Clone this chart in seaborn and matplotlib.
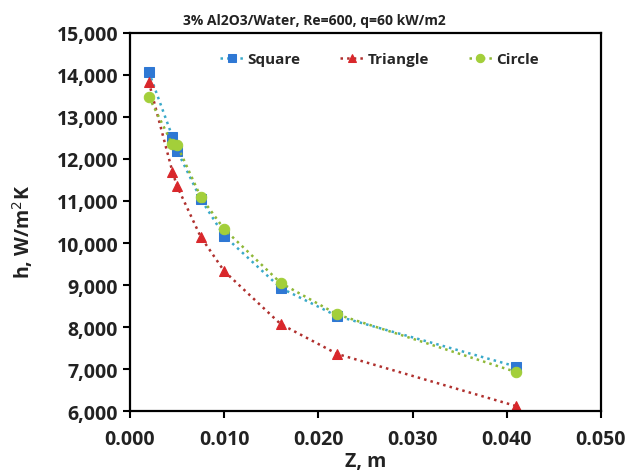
import numpy as np
import pandas as pd
import matplotlib
matplotlib.use("Agg")
import matplotlib.pyplot as plt
import seaborn as sns
from matplotlib.ticker import FuncFormatter

# dane
z = [0.002, 0.0045, 0.005, 0.0075, 0.010, 0.016, 0.022, 0.041]
h_square = [14070, 12530, 12200, 11050, 10170, 8930, 8260, 7060]
h_triangle = [13830, 11700, 11350, 10150, 9330, 8070, 7360, 6120]
h_circle = [13480, 12350, 12330, 11100, 10330, 9050, 8300, 6930]

series = ["Square", "Triangle", "Circle"]
values = [h_square, h_triangle, h_circle]

df = pd.concat([pd.DataFrame({"Z": z, "h": v, "shape": s}) for s, v in zip(series, values)])

sns.set_theme(style="white")
plt.rcParams['font.family'] = ['Open Sans', 'DejaVu Sans']

styles = {
    "Square": dict(marker="s", mc="#2F78D4", lc="#3AA9C9", ms=7),
    "Triangle": dict(marker="^", mc="#D9272B", lc="#B0302E", ms=7),
    "Circle": dict(marker="o", mc="#A3CF3A", lc="#8FB838", ms=7.5),
}

fig = plt.figure(figsize=(6.28, 4.77), dpi=100)
ax = fig.add_axes([0.207, 0.136, 0.75, 0.793])

for s in series:
    st = styles[s]
    sns.lineplot(data=df[df["shape"] == s], x="Z", y="h", ax=ax, label=s,
                 color=st["lc"], linestyle=":", linewidth=1.8,
                 marker=st["marker"], markersize=st["ms"],
                 markerfacecolor=st["mc"], markeredgecolor=st["mc"],
                 estimator=None, sort=False)

ax.set_xlim(0, 0.05)
ax.set_ylim(6000, 15000)
ax.set_xticks(np.arange(0, 0.0501, 0.01))
ax.set_yticks(np.arange(6000, 15001, 1000))
ax.xaxis.set_major_formatter(FuncFormatter(lambda v, p: f"{v:.3f}"))
ax.yaxis.set_major_formatter(FuncFormatter(lambda v, p: f"{v:,.0f}"))
ax.tick_params(axis="both", direction="out", length=5, width=1.5, color="black",
               labelsize=14, bottom=True, left=True)
ax.tick_params(axis="x", pad=8)
for lab in ax.get_xticklabels() + ax.get_yticklabels():
    lab.set_fontweight("bold")
    lab.set_color("#222222")
for sp in ax.spines.values():
    sp.set_color("black")
    sp.set_linewidth(1.6)

ax.set_xlabel("Z, m", fontsize=14, fontweight="bold", color="#222222", va="center")
ax.set_ylabel("h, W/m$^2$K", fontsize=14, fontweight="bold", color="#222222", va="center")
ax.xaxis.set_label_coords(0.5, -0.132)
ax.yaxis.set_label_coords(-0.228, 0.476)
fig.text(0.5, 0.956, "3% Al2O3/Water, Re=600, q=60 kW/m2", ha="center", va="center",
         fontsize=10, fontweight="bold", color="#222222")

ax.legend(loc="upper center", bbox_to_anchor=(0.53, 0.985), ncol=3, frameon=False,
          prop={"weight": "bold", "size": 11}, columnspacing=2.6,
          handlelength=1.5, handletextpad=0.3, markerscale=0.8)

fig.savefig("out.png", dpi=100)
